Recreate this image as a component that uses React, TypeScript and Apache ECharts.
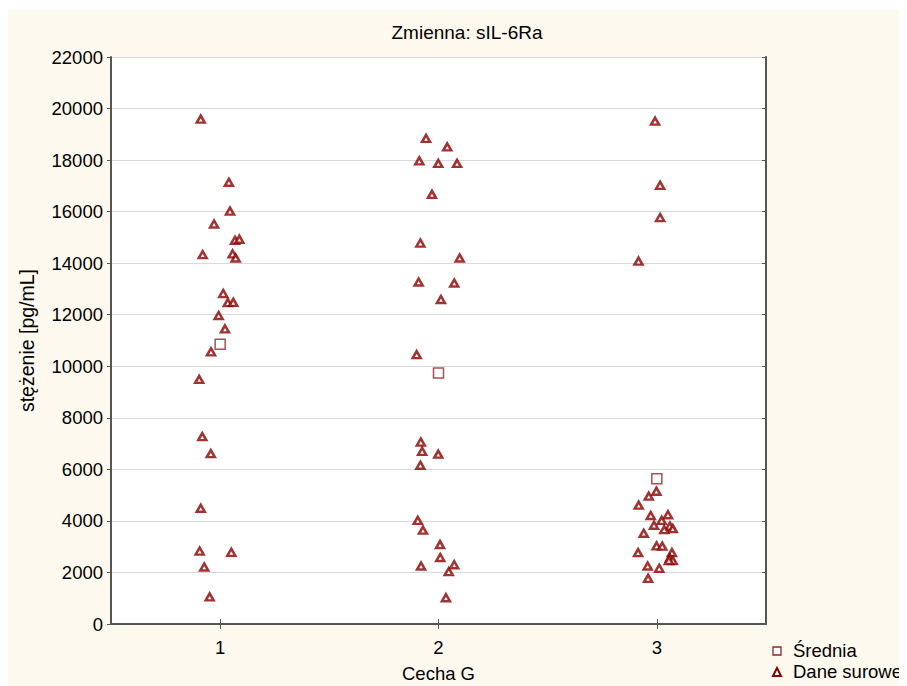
import React, { useEffect, useRef } from "react";
import * as echarts from "echarts";

const categories = [1, 2, 3];
const yTicksMax = 22000;
const yTickStep = 2000;

// raw data: [x position (category + jitter), value]
const raw1X = [0.911, 1.040, 1.045, 0.972, 1.068, 1.088, 0.920, 1.057, 1.071, 1.014, 1.035, 1.060, 0.993, 1.022, 0.958, 0.904, 0.918, 0.957, 0.911, 0.906, 1.051, 0.927, 0.952];
const raw1Y = [19590, 17140, 16020, 15520, 14890, 14930, 14330, 14360, 14200, 12820, 12470, 12480, 11970, 11450, 10560, 9490, 7270, 6610, 4490, 2830, 2780, 2210, 1050];

const raw2X = [1.943, 2.040, 1.912, 1.999, 2.085, 1.970, 1.917, 2.097, 1.909, 2.072, 2.011, 1.900, 1.919, 1.925, 1.999, 1.917, 1.905, 1.929, 2.007, 2.008, 2.072, 1.920, 2.047, 2.034];
const raw2Y = [18840, 18510, 17970, 17870, 17870, 16670, 14780, 14200, 13270, 13230, 12590, 10450, 7060, 6700, 6590, 6160, 4020, 3640, 3080, 2580, 2300, 2250, 2030, 1020];

const raw3X = [2.992, 3.015, 3.015, 2.916, 2.998, 2.963, 2.917, 2.972, 3.051, 3.022, 2.987, 3.060, 3.073, 3.034, 2.940, 2.999, 3.025, 2.914, 3.069, 3.060, 3.073, 3.055, 2.958, 3.011, 2.960];
const raw3Y = [19510, 17020, 15770, 14080, 5150, 4960, 4610, 4210, 4240, 4020, 3830, 3800, 3700, 3660, 3520, 3030, 3020, 2770, 2770, 2560, 2460, 2460, 2250, 2160, 1770];

const means = [10850, 9740, 5640];

const legendNames = ["Średnia", "Dane surowe"];

const FONT = "'Liberation Sans', Arial, sans-serif";
const RED = "#8b0000";
const MEAN_RED = "#952424";
const AXIS = "#555555";

export default function App() {
  const ref = useRef<HTMLDivElement>(null);

  useEffect(() => {
    if (!ref.current) return;
    const chart = echarts.init(ref.current, undefined, { renderer: "svg" });

    const rawData: number[][] = [];
    [
      [raw1X, raw1Y],
      [raw2X, raw2Y],
      [raw3X, raw3Y],
    ].forEach(([xs, ys]) => {
      xs.forEach((x, i) => rawData.push([x, ys[i]]));
    });
    const meanData = categories.map((c, i) => [c, means[i]]);

    const commonX = {
      type: "value" as const,
      min: 0.5,
      max: 3.5,
      splitLine: { show: false },
      axisLine: { show: true, lineStyle: { color: AXIS, width: 2 } },
    };
    const commonY = {
      type: "value" as const,
      min: 0,
      max: yTicksMax,
      interval: yTickStep,
      axisLine: { show: true, lineStyle: { color: AXIS, width: 2 } },
    };

    chart.setOption({
      animation: false,
      backgroundColor: "transparent",
      textStyle: { fontFamily: FONT },
      title: {
        text: "Zmienna: sIL-6Ra",
        left: 454,
        textAlign: "center",
        top: 8,
        textStyle: { fontFamily: FONT, fontSize: 19, fontWeight: "normal", color: "#000" },
      },
      grid: {
        left: 103,
        top: 47,
        right: 141,
        bottom: 62,
        show: true,
        backgroundColor: "#ffffff",
        borderWidth: 0,
        containLabel: false,
        outerBoundsMode: "none",
      },
      xAxis: [
        {
          ...commonX,
          position: "bottom",
          name: "Cecha G",
          nameLocation: "middle",
          nameGap: 40,
          nameTextStyle: { fontFamily: FONT, fontSize: 18.5, color: "#000" },
          axisTick: { show: true, inside: true, length: 5, customValues: categories, lineStyle: { color: AXIS } },
          axisLabel: { customValues: categories, fontSize: 18.5, color: "#000", margin: 14, fontFamily: FONT },
        },
        {
          ...commonX,
          position: "top",
          axisTick: { show: true, inside: true, length: 5, customValues: categories, lineStyle: { color: AXIS } },
          axisLabel: { show: false },
        },
      ],
      yAxis: [
        {
          ...commonY,
          position: "left",
          name: "stężenie [pg/mL]",
          nameLocation: "middle",
          nameGap: 74,
          nameTextStyle: { fontFamily: FONT, fontSize: 19.5, color: "#000" },
          axisTick: { show: true, inside: false, length: 4, lineStyle: { color: AXIS } },
          axisLabel: {
            fontSize: 18.5,
            color: "#000",
            margin: 8,
            fontFamily: FONT,
            formatter: (v: number) => String(v),
          },
          splitLine: { show: true, lineStyle: { color: "#d9d9d9", width: 1 } },
        },
        {
          ...commonY,
          position: "right",
          axisTick: { show: true, inside: true, length: 4, lineStyle: { color: AXIS } },
          axisLabel: { show: false },
          splitLine: { show: false },
        },
      ],
      graphic: [
        {
          type: "rect",
          shape: { x: 765, y: 637, width: 8, height: 8 },
          style: { fill: "#ffffff", stroke: MEAN_RED, lineWidth: 1.3 },
        },
        {
          type: "text",
          left: 785,
          top: 631,
          style: { text: legendNames[0], font: `18.5px ${FONT}`, fill: "#000" },
        },
        {
          type: "polygon",
          shape: { points: [[769, 658], [765, 666], [773, 666]] },
          style: { fill: "#ffffff", stroke: RED, lineWidth: 2 },
        },
        {
          type: "text",
          left: 785,
          top: 652,
          style: { text: legendNames[1], font: `18.5px ${FONT}`, fill: "#000" },
        },
      ],
      series: [
        {
          name: legendNames[1],
          type: "scatter",
          xAxisIndex: 0,
          yAxisIndex: 0,
          symbol: "triangle",
          symbolSize: [8, 7],
          itemStyle: { color: "#ffffff", borderColor: RED, borderWidth: 2.5 },
          data: rawData,
          z: 2,
        },
        {
          name: legendNames[0],
          type: "scatter",
          xAxisIndex: 0,
          yAxisIndex: 0,
          symbol: "rect",
          symbolSize: 10,
          itemStyle: { color: "#ffffff", borderColor: MEAN_RED, borderWidth: 1.5 },
          data: meanData,
          z: 3,
        },
      ],
    });

    return () => chart.dispose();
  }, []);

  return (
    <div
      ref={ref}
      style={{ width: 899, height: 676, marginTop: 2, background: "#fef9ee" }}
    />
  );
}
